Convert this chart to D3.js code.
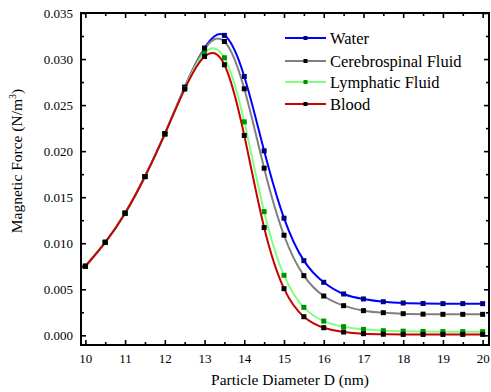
<!DOCTYPE html>
<html><head><meta charset="utf-8">
<script src="https://cdn.jsdelivr.net/npm/d3@7"></script>
</head><body style="margin:0">
<svg id="c" width="491" height="392" font-family="Liberation Serif"></svg>
<script>
const diameters = [10,10.5,11,11.5,12,12.5,13,13.5,14,14.5,15,15.5,16,16.5,17,17.5,18,18.5,19,19.5,20];
const water =        [0.0075,0.0101,0.01326,0.01724,0.02188,0.02696,0.0312,0.03257,0.02811,0.02003,0.01272,0.00811,0.00576,0.00449,0.00395,0.00365,0.00351,0.00346,0.00344,0.00344,0.00344];
const cerebrospinal =[0.0075,0.0101,0.01326,0.01724,0.02188,0.02690,0.0311,0.03191,0.02677,0.01815,0.01087,0.00648,0.00427,0.00322,0.00268,0.00246,0.00235,0.00230,0.00228,0.00228,0.00228];
const lymphatic =    [0.0075,0.0101,0.01326,0.01724,0.02188,0.02680,0.03065,0.03014,0.02318,0.01343,0.00652,0.00304,0.00155,0.00094,0.00065,0.0005,0.00045,0.00042,0.0004,0.0004,0.0004];
const blood =        [0.0075,0.0101,0.01326,0.01724,0.02188,0.02674,0.03028,0.02938,0.0217,0.0117,0.00507,0.00202,0.00083,0.00036,0.00018,0.00012,0.0001,0.0001,0.0001,0.0001,0.0001];
const seriesNames = ["Water","Cerebrospinal Fluid","Lymphatic Fluid","Blood"];
const lineColors = ["#0000ff","#808080","#80ff80","#cc0000"];
const markerColors = ["#000080","#000000","#009000","#000000"];
const xTicks = [10,11,12,13,14,15,16,17,18,19,20];
const yTicks = [0,0.005,0.010,0.015,0.020,0.025,0.030,0.035];

const allSeries = [water, cerebrospinal, lymphatic, blood];
const svg = d3.select("#c");
const L=81, R=489, T=13, B=345;
const x = d3.scaleLinear().domain([9.89,20.16]).range([L,R]);
const y = d3.scaleLinear().domain([-0.00105,0.035]).range([B,T]);

function serif(sel){ return sel.attr("font-family","Liberation Serif").style("font-family","'Liberation Serif'"); }

const g = svg.append("g");
const line = d3.line().x((d,i)=>x(diameters[i])).y(d=>y(d)).curve(d3.curveNatural);
allSeries.forEach((s,k)=>{
  g.append("path").attr("d",line(s)).attr("fill","none").attr("stroke",lineColors[k]).attr("stroke-width",2);
});
allSeries.forEach((s,k)=>{
  g.selectAll(null).data(s).enter().append("rect")
    .attr("x",(d,i)=>x(diameters[i])-2.5).attr("y",d=>y(d)-2.5)
    .attr("width",5).attr("height",5).attr("fill",markerColors[k]);
});

const xMinor = d3.range(10,20.01,0.5).filter(v=>v%1!==0);
const yMinor = d3.range(0.0025,0.035,0.005);
const ax = svg.append("g");
ax.append("g").attr("transform",`translate(0,${B})`)
  .call(d3.axisBottom(x).tickValues(xTicks).tickSize(-5).tickPadding(9).tickFormat(d3.format("d")));
ax.append("g").attr("transform",`translate(0,${B})`)
  .call(d3.axisBottom(x).tickValues(xMinor).tickSize(-3).tickFormat(""));
ax.append("g").attr("transform",`translate(0,${T})`)
  .call(d3.axisTop(x).tickValues(xTicks).tickSize(-5).tickFormat(""));
ax.append("g").attr("transform",`translate(0,${T})`)
  .call(d3.axisTop(x).tickValues(xMinor).tickSize(-3).tickFormat(""));
ax.append("g").attr("transform",`translate(${L},0)`)
  .call(d3.axisLeft(y).tickValues(yTicks).tickSize(-5).tickPadding(8).tickFormat(d3.format(".3f")));
ax.append("g").attr("transform",`translate(${L},0)`)
  .call(d3.axisLeft(y).tickValues(yMinor).tickSize(-3).tickFormat(""));
ax.append("g").attr("transform",`translate(${R},0)`)
  .call(d3.axisRight(y).tickValues(yTicks).tickSize(-5).tickFormat(""));
ax.append("g").attr("transform",`translate(${R},0)`)
  .call(d3.axisRight(y).tickValues(yMinor).tickSize(-3).tickFormat(""));
ax.selectAll(".domain").remove();
ax.selectAll("g").attr("font-family","Liberation Serif");
ax.selectAll(".tick line").attr("stroke","#000").attr("stroke-width",1.6);
serif(ax.selectAll(".tick text")).attr("font-size",13).attr("fill","#000");
ax.append("rect").attr("x",L).attr("y",T).attr("width",R-L).attr("height",B-T)
  .attr("fill","none").attr("stroke","#000").attr("stroke-width",2);

serif(svg.append("text")).attr("x",290).attr("y",385).attr("text-anchor","middle").attr("font-size",15.5)
  .text("Particle Diameter D (nm)");
const yt = serif(svg.append("text")).attr("transform","translate(22,161) rotate(-90)").attr("text-anchor","middle")
  .attr("font-size",15.5);
yt.append("tspan").text("Magnetic Force (N/m");
yt.append("tspan").attr("font-size",10).attr("dy",-6).text("3");
yt.append("tspan").attr("dy",6).text(")");

const ly = [38,61,82,104];
seriesNames.forEach((n,k)=>{
  const lg = svg.append("g").attr("transform",`translate(0,${ly[k]})`);
  lg.append("line").attr("x1",285).attr("x2",326).attr("y1",0).attr("y2",0).attr("stroke",lineColors[k]).attr("stroke-width",2);
  lg.append("rect").attr("x",303.5).attr("y",-2).attr("width",4).attr("height",4).attr("fill",markerColors[k]);
  serif(lg.append("text")).attr("x",330).attr("y",0).attr("dy","0.35em").attr("font-size",16.5).text(n);
});
</script>
</body></html>
